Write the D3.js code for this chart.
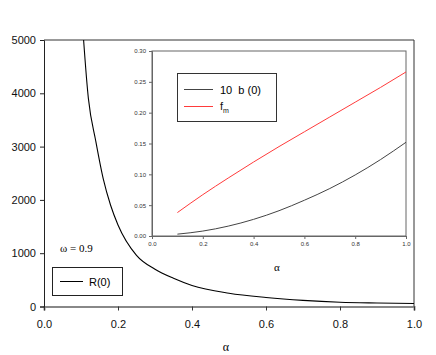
<!DOCTYPE html>
<html>
<head>
<meta charset="utf-8">
<script src="https://cdn.jsdelivr.net/npm/d3@7"></script>
<style>
  body { margin: 0; background: #fff; }
  svg { display: block; }
</style>
</head>
<body>
<div id="chart"></div>
<script>
// main curve R(0) vs alpha
var alphaMain = [0.10, 0.12, 0.14, 0.16, 0.18, 0.20, 0.25, 0.30, 0.35, 0.40, 0.50, 0.60, 0.70, 0.80, 0.90, 1.00];
var r0 = [5700, 3900, 3100, 2400, 1900, 1530, 960, 700, 530, 395, 250, 170, 115, 80, 65, 55];

// inset curves
var alphaInset = [0.1, 0.2, 0.3, 0.4, 0.5, 0.6, 0.7, 0.8, 0.9, 1.0];
var b0x10 = [0.003, 0.008, 0.016, 0.027, 0.041, 0.058, 0.077, 0.099, 0.124, 0.152];
var fm = [0.038, 0.067, 0.094, 0.120, 0.145, 0.169, 0.193, 0.217, 0.241, 0.266];

var mainXTicks = [0.0, 0.2, 0.4, 0.6, 0.8, 1.0];
var mainYTicks = [0, 1000, 2000, 3000, 4000, 5000];
var insetXTicks = [0.0, 0.2, 0.4, 0.6, 0.8, 1.0];
var insetYTicks = [0.00, 0.05, 0.10, 0.15, 0.20, 0.25, 0.30];

var W = 436, H = 355;
var svg = d3.select("#chart").append("svg")
  .attr("width", W)
  .attr("height", H);

var font = "Liberation Sans, Arial, sans-serif";
var serif = "Liberation Serif, Times New Roman, serif";

// ---- main plot ----
var x = d3.scaleLinear().domain([0, 1]).range([44, 414]);
var y = d3.scaleLinear().domain([0, 5000]).range([306.5, 40]);

svg.append("clipPath").attr("id", "mainclip")
  .append("rect").attr("x", 44).attr("y", 40).attr("width", 370).attr("height", 266.5);

var gx = svg.append("g")
  .attr("transform", "translate(0," + y(0) + ")")
  .call(d3.axisBottom(x).tickValues(mainXTicks).tickFormat(d3.format(".1f")).tickSize(4).tickPadding(10));
gx.select(".domain").attr("stroke", "#888").attr("stroke-width", 2);
gx.selectAll(".tick line").attr("stroke", "#333");
gx.selectAll("text").attr("font-family", font).attr("font-size", 11).attr("fill", "#111");

var gy = svg.append("g")
  .attr("transform", "translate(" + x(0) + ",0)")
  .call(d3.axisLeft(y).tickValues(mainYTicks).tickFormat(d3.format("d")).tickSize(4).tickPadding(4));
gy.select(".domain").attr("stroke", "#222");
gy.selectAll(".tick line").attr("stroke", "#222");
gy.selectAll("text").attr("font-family", font).attr("font-size", 11).attr("fill", "#111");

// top and right frame
svg.append("line").attr("x1", x(0)).attr("x2", x(1)).attr("y1", y(5000)).attr("y2", y(5000))
  .attr("stroke", "#333");
svg.append("line").attr("x1", x(1)).attr("x2", x(1)).attr("y1", y(5000)).attr("y2", y(0))
  .attr("stroke", "#333");

var mainData = alphaMain.map(function(a, i) { return [a, r0[i]]; });
svg.append("path")
  .datum(mainData)
  .attr("clip-path", "url(#mainclip)")
  .attr("fill", "none")
  .attr("stroke", "#000")
  .attr("stroke-width", 1.1)
  .attr("d", d3.line().x(function(d) { return x(d[0]); }).y(function(d) { return y(d[1]); }).curve(d3.curveMonotoneX));

svg.append("text").attr("x", 226).attr("y", 351)
  .attr("text-anchor", "middle").attr("font-family", serif).attr("font-size", 12)
  .text("α");

svg.append("text").attr("x", 60).attr("y", 252)
  .attr("font-family", serif).attr("font-size", 11)
  .text("ω = 0.9");

// main legend
svg.append("rect").attr("x", 52.5).attr("y", 267.5).attr("width", 70).attr("height", 28)
  .attr("fill", "#fff").attr("stroke", "#222");
svg.append("line").attr("x1", 60).attr("x2", 83).attr("y1", 281.5).attr("y2", 281.5).attr("stroke", "#000");
svg.append("text").attr("x", 89).attr("y", 285.5)
  .attr("font-family", font).attr("font-size", 11).text("R(0)");

// ---- inset ----
var xi = d3.scaleLinear().domain([0, 1]).range([152, 406]);
var yi = d3.scaleLinear().domain([0, 0.3]).range([236, 51]);

svg.append("rect").attr("x", xi(0)).attr("y", yi(0.3)).attr("width", xi(1) - xi(0)).attr("height", yi(0) - yi(0.3))
  .attr("fill", "#fff").attr("stroke", "#666");

var gxi = svg.append("g")
  .attr("transform", "translate(0," + yi(0) + ")")
  .call(d3.axisBottom(xi).tickValues(insetXTicks).tickFormat(d3.format(".1f")).tickSize(3).tickPadding(3));
gxi.select(".domain").attr("stroke", "#666");
gxi.selectAll(".tick line").attr("stroke", "#666");
gxi.selectAll("text").attr("font-family", font).attr("font-size", 6).attr("fill", "#333");

var gyi = svg.append("g")
  .attr("transform", "translate(" + xi(0) + ",0)")
  .call(d3.axisLeft(yi).tickValues(insetYTicks).tickFormat(d3.format(".2f")).tickSize(3).tickPadding(3));
gyi.select(".domain").attr("stroke", "#666");
gyi.selectAll(".tick line").attr("stroke", "#666");
gyi.selectAll("text").attr("font-family", font).attr("font-size", 6).attr("fill", "#333");

var lineI = d3.line().x(function(d) { return xi(d[0]); }).y(function(d) { return yi(d[1]); }).curve(d3.curveMonotoneX);

svg.append("path")
  .datum(alphaInset.map(function(a, i) { return [a, b0x10[i]]; }))
  .attr("fill", "none").attr("stroke", "#444").attr("stroke-width", 1)
  .attr("d", lineI);

svg.append("path")
  .datum(alphaInset.map(function(a, i) { return [a, fm[i]]; }))
  .attr("fill", "none").attr("stroke", "#ff3b3b").attr("stroke-width", 1)
  .attr("d", lineI);

svg.append("text").attr("x", 277).attr("y", 271)
  .attr("text-anchor", "middle").attr("font-family", serif).attr("font-size", 11)
  .text("α");

// inset legend
svg.append("rect").attr("x", 177.5).attr("y", 73.5).attr("width", 99).attr("height", 48)
  .attr("fill", "#fff").attr("stroke", "#333");
svg.append("line").attr("x1", 184).attr("x2", 213).attr("y1", 89.5).attr("y2", 89.5).attr("stroke", "#444");
svg.append("line").attr("x1", 184).attr("x2", 213).attr("y1", 106.5).attr("y2", 106.5).attr("stroke", "#ff3b3b");
svg.append("text").attr("x", 220).attr("y", 93.5)
  .attr("font-family", font).attr("font-size", 11)
  .attr("xml:space", "preserve").style("white-space", "pre")
  .text("10  b (0)");
var ft = svg.append("text").attr("x", 220).attr("y", 110)
  .attr("font-family", font).attr("font-size", 11).attr("fill", "#111");
ft.append("tspan").text("f");
ft.append("tspan").attr("font-size", 7).attr("dy", 3).text("m");
</script>
</body>
</html>
